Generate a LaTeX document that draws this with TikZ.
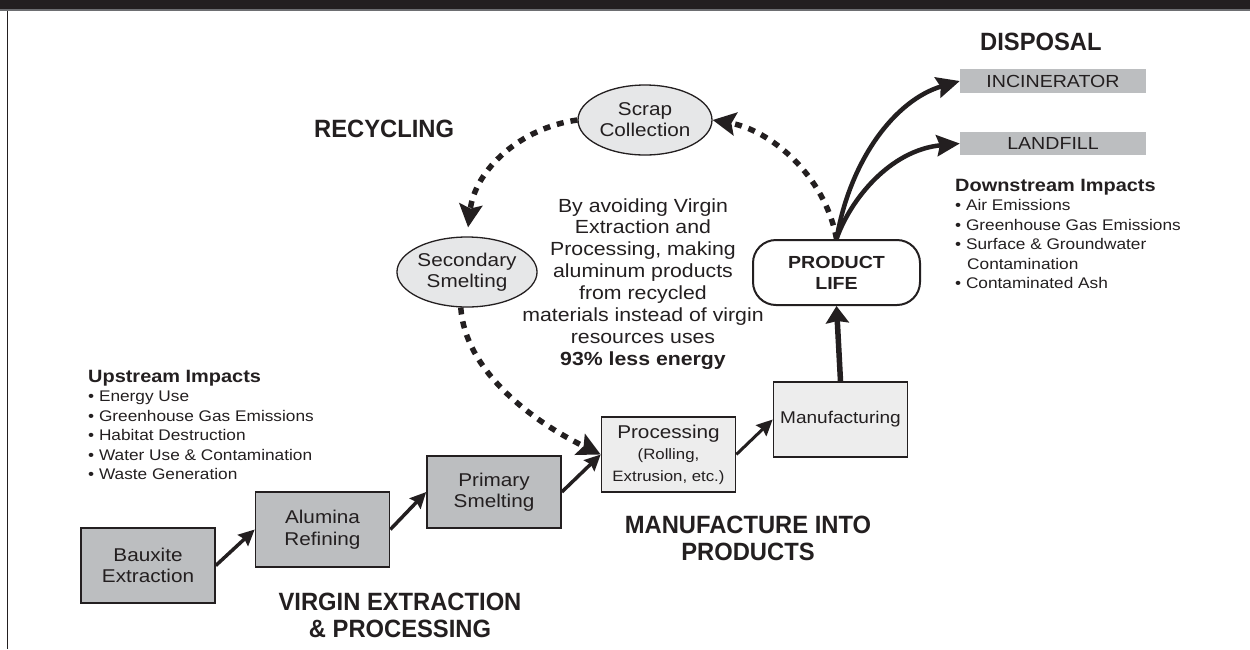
\documentclass[tikz,border=0pt]{standalone}
\usepackage{fontspec}
\setmainfont{Liberation Sans}[FakeStretch=1.12]
\newfontfamily\headfont{Liberation Sans}[FakeStretch=0.95]
\usetikzlibrary{arrows.meta,shapes.geometric,calc}
\definecolor{ink}{HTML}{231F20}
\definecolor{boxgray}{HTML}{BCBEC0}
\definecolor{lightbox}{HTML}{EDEDED}
\definecolor{ellgray}{HTML}{E6E7E8}
\definecolor{bandgray}{HTML}{6D6E71}
\begin{document}
\begin{tikzpicture}[x=1pt,y=-1pt,
  virgin/.style={draw=ink, line width=1.6pt, fill=boxgray, minimum width=134pt, minimum height=75pt,
    inner sep=0pt, align=center, text=ink, font=\fontsize{18.5}{21.5}\selectfont},
  mfgbox/.style={virgin, fill=lightbox},
  ell/.style={ellipse, draw=ink, line width=1.3pt, fill=ellgray, minimum width=134pt, minimum height=70pt,
    inner sep=0pt, align=center, text=ink, font=\fontsize{18.5}{21}\selectfont},
  disp/.style={fill=boxgray, minimum width=186pt, minimum height=23.5pt, inner sep=0pt, text=ink,
    font=\fontsize{17.5}{20}\selectfont},
  head/.style={inner sep=0pt, text=ink, font=\headfont\bfseries\fontsize{25}{27}\selectfont},
  midtext/.style={inner sep=0pt, anchor=base, text=ink, font=\fontsize{19}{22}\selectfont},
  listhead/.style={inner sep=0pt, anchor=base west, text=ink, font=\bfseries\fontsize{17.8}{20}\selectfont},
  listitem/.style={inner sep=0pt, anchor=base west, text=ink, font=\fontsize{15.4}{19}\selectfont},
  flow/.style={draw=ink, line width=3.5pt, -{Stealth[length=16pt,width=15pt,inset=2pt]}},
  bigflow/.style={draw=ink, line width=5.5pt, -{Stealth[length=17pt,width=23pt,inset=2pt]}},
  dispflow/.style={draw=ink, line width=4.5pt, -{Stealth[length=23pt,width=21pt,inset=3pt]}},
  recflow/.style={draw=ink, line width=5.5pt, dash pattern=on 7pt off 7pt, -{Stealth[length=23pt,width=23pt,inset=4pt]}}
]
\useasboundingbox (0,0) rectangle (1250,649);
% frame
\fill[ink] (0,0) rectangle (1250,9);
\fill[bandgray] (0,9) rectangle (1250,11);
\draw[ink, line width=1.2pt] (7.8,11) -- (7.8,649);

% virgin chain
\node[virgin] (baux) at (148,565.5) {Bauxite\\Extraction};
\node[virgin] (alum) at (322.5,529.5) {Alumina\\Refining};
\node[virgin, minimum height=72pt] (prim) at (494,492) {Primary\\Smelting};
\node[mfgbox] (proc) at (668.5,454.5) {\fontsize{18.5}{18}\selectfont Processing\\\fontsize{15}{18}\selectfont (Rolling,\\\fontsize{15}{18}\selectfont Extrusion, etc.)};
\node[mfgbox, font=\fontsize{17}{20}\selectfont] (mfg) at (840.5,419.5) {Manufacturing};

% recycling ellipses
\node[ell] (scrap) at (645,120) {Scrap\\Collection};
\node[ell] (sec) at (467,272) {Secondary\\Smelting};

% product life
\node[draw=ink, line width=2pt, fill=white, rounded corners=23pt, minimum width=167pt, minimum height=65pt,
  inner sep=0pt, align=center, text=ink, font=\bfseries\fontsize{17.5}{21}\selectfont] (pl) at (836.5,272.5) {PRODUCT\\LIFE};

% disposal boxes
\node[disp] (inc) at (1053,81) {INCINERATOR};
\node[disp] (land) at (1053,143.5) {LANDFILL};

% headings
\node[head, anchor=base west] (rec) at (314,137) {RECYCLING};
\node[head, anchor=base west] (dis) at (980,50) {DISPOSAL};
\node[head, anchor=base] (vir1) at (400,610) {VIRGIN EXTRACTION};
\node[head, anchor=base] (vir2) at (400,637) {\& PROCESSING};
\node[head, anchor=base] (man1) at (748,533) {MANUFACTURE INTO};
\node[head, anchor=base] (man2) at (748,560) {PRODUCTS};

% central text
\foreach \t [count=\i from 0] in {By avoiding Virgin, Extraction and, {Processing, making}, aluminum products, from recycled, materials instead of virgin, resources uses}
  {\node[midtext] (m\i) at (643,212+21.86*\i) {\t};}
\node[midtext, font=\bfseries\fontsize{19}{22}\selectfont] (m7) at (643,365) {93\% less energy};

% upstream list
\node[listhead] (uh) at (88,382) {Upstream Impacts};
\foreach \t [count=\i from 0] in {Energy Use, Greenhouse Gas Emissions, Habitat Destruction, Water Use \& Contamination, Waste Generation}
  {\node[listitem] (u\i) at (88,401.5+19.5*\i) {\textbullet\ \t};}

% downstream list
\node[listhead] (dh) at (955,191) {Downstream Impacts};
\node[listitem] (d0) at (955,210.5) {\textbullet\ Air Emissions};
\node[listitem] (d1) at (955,230) {\textbullet\ Greenhouse Gas Emissions};
\node[listitem] (d2) at (955,249.5) {\textbullet\ Surface \& Groundwater};
\node[listitem] (d3) at (967,269) {Contamination};
\node[listitem] (d4) at (955,288.5) {\textbullet\ Contaminated Ash};

% flow arrows
\draw[flow] (baux.east) -- (alum.west);
\draw[flow] (alum.east) -- (prim.west);
\draw[flow] (prim.east) -- (proc.west);
\draw[flow, line width=3pt] (proc.east) -- (mfg.west);
\draw[bigflow] (mfg.north) -- (pl.south);

% disposal arrows
\draw[dispflow] (pl.north) .. controls (850,160) and (895,100) .. (inc.west);
\draw[dispflow] (pl.north) .. controls (850,200) and (890,150) .. (land.west);

% recycling loop
\draw[recflow] (pl.north) .. controls (825,175) and (770,130) .. (scrap.east);
\draw[recflow, shorten >=9pt] (scrap.west) .. controls (520,128) and (475,170) .. (sec.north);
\draw[recflow] (sec.260) .. controls (465,370) and (530,420) .. (proc.west);
\end{tikzpicture}
\end{document}
